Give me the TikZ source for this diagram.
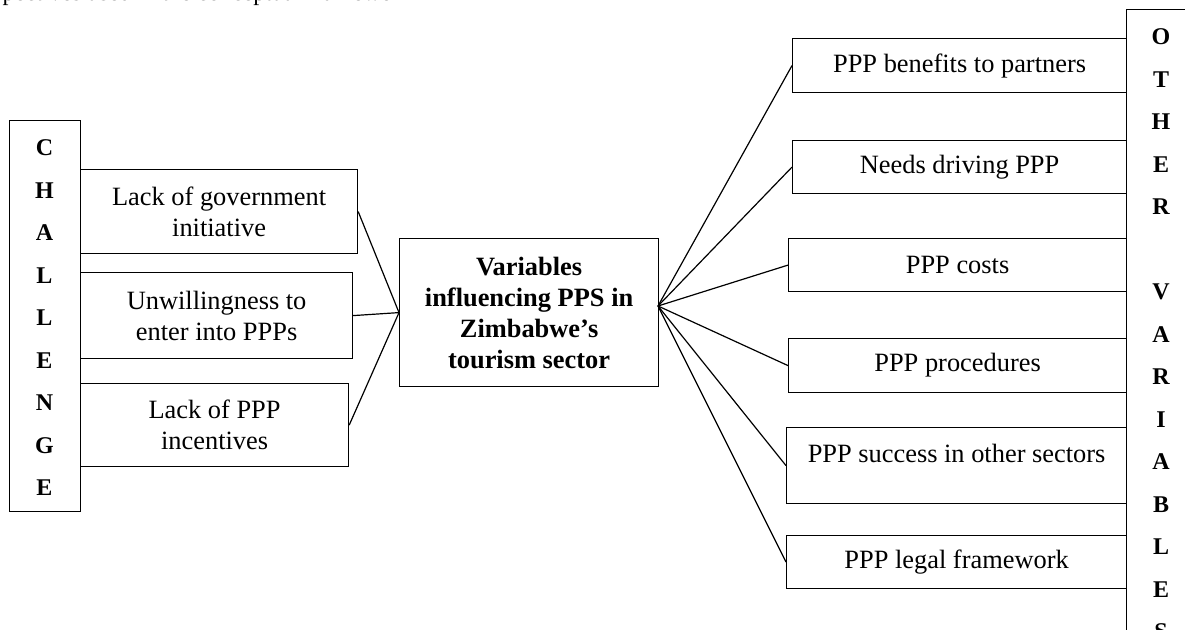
\documentclass[tikz,border=0pt]{standalone}
\usepackage{fontspec}
\setmainfont{Liberation Serif}
\usepackage{tikz}
\usetikzlibrary{positioning}
\tikzset{
    plain-box/.style = {draw=black, fill=white, line width=0.6pt, rectangle, inner sep=0pt, anchor=north west, font=\fontsize{13.2}{15.5}\selectfont},
    two-line-box/.style = {plain-box, align=center},
    main-box/.style = {two-line-box, font=\bfseries\fontsize{13.2}{15.5}\selectfont},
    column-box/.style = {draw=black, line width=0.6pt, rectangle, inner sep=0pt, anchor=north west},
    column-letter/.style = {font=\bfseries\fontsize{12}{14}\selectfont, inner sep=0pt},
    link/.style = {draw=black, line width=0.6pt},
}

\begin{document}
\begin{tikzpicture}[x=0.5pt, y=-0.5pt]
\useasboundingbox (0,0) rectangle (1185,630);
% line of the page above, cut by the top edge
\node[anchor=base west, inner sep=0pt, font=\fontsize{12}{14}\selectfont] (caption) at (-7,1) {spectives used in the conceptual framework};

% challenge column
\node[column-box, minimum width=35.5pt, minimum height=195.5pt] (challenge) at (9,120) {};
\foreach \ch [count=\i] in {C,H,A,L,L,E,N,G,E}
    \node[column-letter] (c\i) at (44.5, 105.5+42.5*\i) {\ch};

\node[two-line-box, minimum width=138.5pt, minimum height=42pt] (lack-gov) at (80,169) {Lack of government\\initiative};
\node[two-line-box, minimum width=136pt, minimum height=43pt] (unwilling) at (80,272) {Unwillingness to\\enter into PPPs};
\node[two-line-box, minimum width=134pt, minimum height=41.5pt] (incentives) at (80,383) {Lack of PPP\\incentives};

% centre
\node[main-box, minimum width=129.5pt, minimum height=74pt] (pps) at (399,238) {Variables\\influencing PPS in\\Zimbabwe's\\tourism sector};

% other variables column
\node[column-box, minimum width=35pt, minimum height=324.5pt] (other) at (1126,9) {};
\foreach \ch [count=\i] in {O,T,H,E,R,{},V,A,R,I,A,B,L,E,S}
    \node[column-letter] (o\i) at (1161, -5.5+42.5*\i) {\ch};

\node[plain-box, minimum width=167pt, minimum height=27pt] (benefits) at (792,38) {PPP benefits to partners};
\node[plain-box, minimum width=167pt, minimum height=26.5pt] (needs) at (792,140) {Needs driving PPP};
\node[plain-box, minimum width=169pt, minimum height=26.5pt] (costs) at (788,238) {PPP costs};
\node[plain-box, minimum width=169pt, minimum height=27pt] (procedures) at (788,338) {PPP procedures};
\node[plain-box, minimum width=170pt, minimum height=38pt, text height=9pt, text depth=12pt] (success) at (786,427) {PPP success in other sectors};
\node[plain-box, minimum width=170pt, minimum height=26.5pt] (legal) at (786,535) {PPP legal framework};

% connectors
\coordinate (right-hub) at (658,306);
\foreach \n in {lack-gov,unwilling,incentives}
    \draw[link] (\n.east) -- (pps.west);
\foreach \n in {benefits,needs,costs,procedures,success,legal}
    \draw[link] (right-hub) -- (\n.west);
\end{tikzpicture}
\end{document}
